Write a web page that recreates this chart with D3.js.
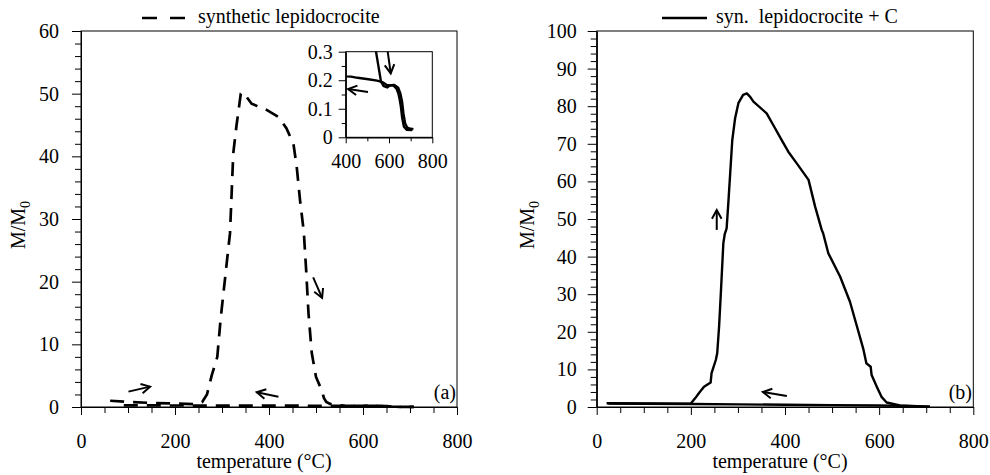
<!DOCTYPE html>
<html>
<head>
<meta charset="utf-8">
<script src="https://cdn.jsdelivr.net/npm/d3@7/dist/d3.min.js"></script>
<style>
  body { margin: 0; background: #fff; }
  text { font-family: "Liberation Serif", "Times New Roman", serif; font-size: 20px; fill: #000; }
</style>
</head>
<body>
<div id="chart"></div>
<script>
// tick labels
var tempTicks = [0, 200, 400, 600, 800];
var leftMTicks = [0, 10, 20, 30, 40, 50, 60];
var rightMTicks = [0, 10, 20, 30, 40, 50, 60, 70, 80, 90, 100];
var insetTempTicks = [400, 600, 800];
var insetMTicks = [0, 0.1, 0.2, 0.3];

// (a) synthetic lepidocrocite, heating run
var aHeatT = [62, 100, 150, 200, 247, 258, 268, 278, 290, 297, 313, 317, 324, 331, 340, 345, 352, 363, 395, 420, 437, 452, 459, 466, 474, 479, 484, 491, 500, 512, 517, 522, 530, 540, 563, 575, 592, 605, 619, 635, 643, 650, 655, 661, 669, 682, 708];
var aHeatM = [1.0, 0.8, 0.65, 0.55, 0.45, 0.8, 2, 5, 8, 14, 25, 27.7, 40.5, 45, 50, 50.2, 49.5, 48.4, 47.4, 46.3, 44.5, 42, 38.3, 33, 28, 21.9, 15, 8.6, 4.8, 2.7, 1.4, 0.8, 0.5, 0.3, 0.195, 0.18, 0.175, 0.182, 0.183, 0.17, 0.154, 0.13, 0.107, 0.067, 0.037, 0.026, 0.025];
// (a) cooling run
var aCoolT = [708, 690, 680, 670, 662, 656, 648, 638, 620, 600, 585, 565, 540, 500, 450, 420, 400, 300, 200, 100, 90];
var aCoolM = [0.025, 0.028, 0.03, 0.045, 0.08, 0.12, 0.15, 0.17, 0.18, 0.178, 0.18, 0.19, 0.195, 0.2, 0.205, 0.209, 0.21, 0.22, 0.24, 0.26, 0.27];

// (b) syn. lepidocrocite + C, heating run
var bHeatT = [21, 100, 200, 209, 219, 228, 242, 244, 253, 256, 260, 264, 269, 272, 276, 280, 283, 288, 294, 301, 311, 319, 326, 333, 361, 375, 393, 407, 425, 450, 464, 478, 481, 492, 517, 538, 552, 566, 573, 582, 584, 595, 605, 616, 644, 708];
var bHeatM = [1.0, 0.95, 0.9, 2.3, 4, 5.4, 6.5, 9, 12.5, 14.3, 21.4, 31, 43.5, 46, 47.5, 55, 61, 71, 76.8, 80.8, 83, 83.4, 82.5, 81.2, 78.1, 75, 71, 67.9, 64.8, 60.4, 53.3, 47.1, 46.2, 40.9, 34.7, 28, 21.8, 15.6, 11.6, 10.7, 8.5, 5.4, 2.7, 1.2, 0.4, 0.1];
// (b) cooling run
var bCoolT = [708, 650, 600, 500, 400, 300, 200, 100, 25];
var bCoolM = [0.1, 0.3, 0.4, 0.5, 0.6, 0.7, 0.8, 0.85, 0.95];

// arrows: [fromT, fromM, toT, toM]
var aArrows = [[101, 2.45, 147, 3.25], [420, 1.65, 374, 2.35], [494, 20.7, 513, 17.4]];
var insetArrows = [[594, 0.3, 608, 0.224], [503, 0.159, 411, 0.169]];
var bArrows = [[255, 47.1, 255, 52.4], [404, 2.9, 353, 4.0]];

var width = 990, height = 475;

var svg = d3.select("#chart")
  .append("svg")
  .attr("width", width)
  .attr("height", height);

function pairs(t, m) {
  return t.map(function(d, i) { return [d, m[i]]; });
}

function drawArrow(g, x, y, a) {
  var x1 = x(a[0]), y1 = y(a[1]), x2 = x(a[2]), y2 = y(a[3]);
  var ang = Math.atan2(y2 - y1, x2 - x1);
  var len = 10, spread = 0.5;
  g.append("line")
    .attr("x1", x1).attr("y1", y1).attr("x2", x2).attr("y2", y2)
    .attr("stroke", "#000").attr("stroke-width", 2);
  g.append("path")
    .attr("d", "M" + (x2 - len * Math.cos(ang - spread)) + "," + (y2 - len * Math.sin(ang - spread)) +
      "L" + x2 + "," + y2 +
      "L" + (x2 - len * Math.cos(ang + spread)) + "," + (y2 - len * Math.sin(ang + spread)))
    .attr("fill", "none").attr("stroke", "#000").attr("stroke-width", 2);
}

// draws one axis pair with major/minor ticks and a frame
function drawAxes(g, x, y, o) {
  g.append("rect")
    .attr("x", x.range()[0]).attr("y", y.range()[1])
    .attr("width", x.range()[1] - x.range()[0])
    .attr("height", y.range()[0] - y.range()[1])
    .attr("fill", o.fill || "none")
    .attr("stroke", "#000").attr("stroke-width", 1);

  var minorX = d3.range(x.domain()[0], x.domain()[1] + 0.001, o.xMinor).filter(function(v) { return o.xTicks.indexOf(v) < 0; });
  var minorY = d3.range(0, y.domain()[1] + 0.0001, o.yMinor).map(function(v) { return +v.toFixed(3); })
    .filter(function(v) { return o.yTicks.indexOf(v) < 0; });

  g.append("g")
    .attr("transform", "translate(0," + y(0) + ")")
    .call(d3.axisBottom(x).tickValues(minorX).tickSize(o.minorLen).tickSizeOuter(0).tickFormat(""));
  g.append("g")
    .attr("transform", "translate(0," + y(0) + ")")
    .call(d3.axisBottom(x).tickValues(o.xTicks).tickSize(o.majorLen).tickSizeOuter(0).tickPadding(o.xPad).tickFormat(d3.format("d")));
  g.append("g")
    .attr("transform", "translate(" + x.range()[0] + ",0)")
    .call(d3.axisLeft(y).tickValues(minorY).tickSize(o.minorLen).tickSizeOuter(0).tickFormat(""));
  g.append("g")
    .attr("transform", "translate(" + x.range()[0] + ",0)")
    .call(d3.axisLeft(y).tickValues(o.yTicks).tickSize(o.majorLen + 1).tickSizeOuter(0).tickPadding(o.yPad).tickFormat(o.yFormat));

  g.selectAll(".domain").attr("stroke", "#000");
  g.selectAll(".tick line").attr("stroke", "#000");
  g.selectAll(".tick text")
    .attr("fill", "#000")
    .style("font-family", "'Liberation Serif', 'Times New Roman', serif")
    .style("font-size", "20px");
}

function yTitle(g, cx, cy) {
  var t = g.append("text")
    .attr("transform", "translate(" + cx + "," + cy + ") rotate(-90)")
    .attr("text-anchor", "middle");
  t.append("tspan").text("M/M");
  t.append("tspan").attr("dy", 5).style("font-size", "14px").text("0");
}

function xTitle(g, x) {
  g.append("text")
    .attr("x", (x.range()[0] + x.range()[1]) / 2 - 5)
    .attr("y", 468)
    .attr("text-anchor", "middle")
    .text("temperature (\u00B0C)");
}

// ---------- panel (a) ----------
var ga = svg.append("g");
var xa = d3.scaleLinear().domain([0, 800]).range([81, 457]);
var ya = d3.scaleLinear().domain([0, 60]).range([407, 31]);

drawAxes(ga, xa, ya, {
  xTicks: tempTicks, yTicks: leftMTicks, xMinor: 50, yMinor: 2,
  majorLen: 8, minorLen: 6, xPad: 19, yPad: 13, yFormat: d3.format("d")
});

var lineA = d3.line().x(function(d) { return xa(d[0]); }).y(function(d) { return ya(d[1]); });

[pairs(aHeatT, aHeatM), pairs(aCoolT, aCoolM)].forEach(function(p) {
  ga.append("path")
    .attr("d", lineA(p))
    .attr("fill", "none")
    .attr("stroke", "#000")
    .attr("stroke-width", 2.7)
    .attr("stroke-dasharray", "14,9");
});

aArrows.forEach(function(a) { drawArrow(ga, xa, ya, a); });

// legend (a)
ga.append("line")
  .attr("x1", 142).attr("x2", 185).attr("y1", 18).attr("y2", 18)
  .attr("stroke", "#000").attr("stroke-width", 2.7).attr("stroke-dasharray", "15,13");
ga.append("text").attr("x", 198).attr("y", 23).text("synthetic lepidocrocite");

ga.append("text").attr("x", 456).attr("y", 399).attr("text-anchor", "end").text("(a)");
yTitle(ga, 25, 225);
xTitle(ga, xa);

// ---------- inset of (a) ----------
var gi = svg.append("g");
var xi = d3.scaleLinear().domain([400, 800]).range([345.7, 432.3]);
var yi = d3.scaleLinear().domain([0, 0.3]).range([137.3, 51.7]);

drawAxes(gi, xi, yi, {
  xTicks: insetTempTicks, yTicks: insetMTicks, xMinor: 100, yMinor: 0.05,
  majorLen: 6, minorLen: 4, xPad: 11, yPad: 6, fill: "#fff",
  yFormat: function(d) { return d === 0 ? "0" : d3.format(".1f")(d); }
});

gi.append("clipPath").attr("id", "insetClip")
  .append("rect")
  .attr("x", 345.7).attr("y", 51.7).attr("width", 86.6).attr("height", 85.6);

var lineI = d3.line().x(function(d) { return xi(d[0]); }).y(function(d) { return yi(d[1]); });

[pairs(aHeatT, aHeatM), pairs(aCoolT, aCoolM)].forEach(function(p, i) {
  gi.append("path")
    .attr("d", lineI(p))
    .attr("clip-path", "url(#insetClip)")
    .attr("fill", "none")
    .attr("stroke", "#000")
    .attr("stroke-width", 2.4)
    .attr("transform", i === 1 ? "translate(1,-1)" : null);
});

insetArrows.forEach(function(a) { drawArrow(gi, xi, yi, a); });

// ---------- panel (b) ----------
var gb = svg.append("g");
var xb = d3.scaleLinear().domain([0, 800]).range([596.7, 973.3]);
var yb = d3.scaleLinear().domain([0, 100]).range([407, 31]);

drawAxes(gb, xb, yb, {
  xTicks: tempTicks, yTicks: rightMTicks, xMinor: 50, yMinor: 2,
  majorLen: 8, minorLen: 6, xPad: 19, yPad: 11, yFormat: d3.format("d")
});

var lineB = d3.line().x(function(d) { return xb(d[0]); }).y(function(d) { return yb(d[1]); });

[pairs(bHeatT, bHeatM), pairs(bCoolT, bCoolM)].forEach(function(p) {
  gb.append("path")
    .attr("d", lineB(p))
    .attr("fill", "none")
    .attr("stroke", "#000")
    .attr("stroke-width", 2.4)
    .attr("stroke-linejoin", "round");
});

bArrows.forEach(function(a) { drawArrow(gb, xb, yb, a); });

// legend (b)
gb.append("line")
  .attr("x1", 662).attr("x2", 707).attr("y1", 18).attr("y2", 18)
  .attr("stroke", "#000").attr("stroke-width", 2.4);
gb.append("text").attr("x", 716).attr("y", 23).text("syn.  lepidocrocite + C").style("white-space", "pre");

gb.append("text").attr("x", 972).attr("y", 399).attr("text-anchor", "end").text("(b)");
yTitle(gb, 534, 225);
xTitle(gb, xb);
</script>
</body>
</html>
